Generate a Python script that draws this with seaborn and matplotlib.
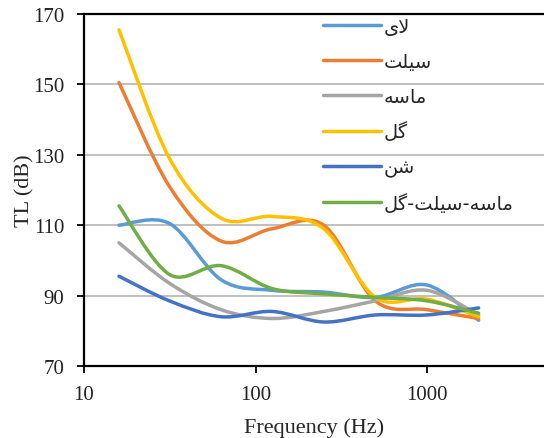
"""
Transmission loss (TL) of six soil types against frequency,
redrawn as an Excel-style smoothed line chart.
"""

# %% ---- Requirements and constants
import numpy as np
import matplotlib
matplotlib.use('Agg')
import matplotlib.pyplot as plt
from matplotlib.path import Path
from matplotlib.patches import PathPatch
from matplotlib.lines import Line2D
import seaborn as sns

freq = [16, 31.5, 63, 125, 250, 500, 1000, 2000]

materials = ['لای', 'سیلت', 'ماسه', 'گل', 'شن', 'ماسه-سیلت-گل']
tl_lay = [110, 110.5, 94.5, 91.5, 91, 89.5, 93, 83]
tl_silt = [150.5, 121, 105.5, 109, 110, 88.5, 86, 83.5]
tl_sand = [105, 93.5, 86, 83.5, 85.5, 88.5, 91.5, 84.5]
tl_clay = [165.5, 129, 112, 112.5, 109, 89.5, 89, 84]
tl_gravel = [95.5, 88.5, 84, 85.5, 82.5, 84.5, 84.5, 86.5]
tl_mix = [115.5, 96, 98.5, 92, 90.5, 89.5, 88.5, 85]
series = [tl_lay, tl_silt, tl_sand, tl_clay, tl_gravel, tl_mix]

colors = ['#5B9BD5', '#ED7D31', '#A5A5A5', '#FFC000', '#4472C4', '#70AD47']

y_ticks = [70, 90, 110, 130, 150, 170]
x_ticks = [10, 100, 1000]


# %% ---- Function and class
# Contextual forms of the Persian letters we need:
# isolated, final, initial, medial (right-joining letters have only two).
FORMS = {
    'ا': ('\uFE8D', '\uFE8E'),
    'ت': ('\uFE95', '\uFE96', '\uFE97', '\uFE98'),
    'س': ('\uFEB1', '\uFEB2', '\uFEB3', '\uFEB4'),
    'ش': ('\uFEB5', '\uFEB6', '\uFEB7', '\uFEB8'),
    'ل': ('\uFEDD', '\uFEDE', '\uFEDF', '\uFEE0'),
    'م': ('\uFEE1', '\uFEE2', '\uFEE3', '\uFEE4'),
    'ن': ('\uFEE5', '\uFEE6', '\uFEE7', '\uFEE8'),
    'ه': ('\uFEE9', '\uFEEA', '\uFEEB', '\uFEEC'),
    'گ': ('\uFB92', '\uFB93', '\uFB94', '\uFB95'),
    'ی': ('\uFBFC', '\uFBFD', '\uFBFE', '\uFBFF'),
}
LAM_ALEF = ('\uFEFB', '\uFEFC')


def shape(text):
    # matplotlib has no complex text layout, so join the letters and
    # put them in visual (left-to-right) order by hand.
    out = []
    i = 0
    while i < len(text):
        c = text[i]
        prev = text[i - 1] if i > 0 else None
        joins_prev = prev in FORMS and len(FORMS[prev]) == 4
        if c == 'ل' and i + 1 < len(text) and text[i + 1] == 'ا':
            out.append(LAM_ALEF[1 if joins_prev else 0])
            i += 2
            continue
        if c not in FORMS:
            out.append(c)
            i += 1
            continue
        f = FORMS[c]
        nxt = text[i + 1] if i + 1 < len(text) else None
        joins_next = len(f) == 4 and nxt in FORMS
        if joins_prev and joins_next:
            out.append(f[3])
        elif joins_prev:
            out.append(f[1])
        elif joins_next:
            out.append(f[2])
        else:
            out.append(f[0])
        i += 1
    return ''.join(reversed(out))


def smooth_path(xs, ys):
    # Excel-like smoothed line: cubic Bezier segments through the points,
    # control points from the neighbours (Catmull-Rom, tension 1/6),
    # worked out in log-x space since the axis is logarithmic.
    pts = np.column_stack([np.log10(xs), ys])
    n = len(pts)
    verts = [pts[0]]
    codes = [Path.MOVETO]
    for i in range(n - 1):
        p0 = pts[max(i - 1, 0)]
        p1 = pts[i]
        p2 = pts[i + 1]
        p3 = pts[min(i + 2, n - 1)]
        c1 = p1 + (p2 - p0) / 6
        c2 = p2 - (p3 - p1) / 6
        verts += [c1, c2, p2]
        codes += [Path.CURVE4] * 3
    verts = np.array(verts)
    verts[:, 0] = 10 ** verts[:, 0]
    return Path(verts, codes)


# %% ---- Play ground
sns.set_theme(style='white')
plt.rcParams['font.family'] = ['Liberation Serif', 'DejaVu Sans']

fig = plt.figure(figsize=(5.44, 4.39), dpi=100)
ax = fig.add_axes([0.1544, 0.164, 0.8456, 0.8018])
ax.set_xscale('log')
ax.set_xlim(10, 4810)
ax.set_ylim(70, 170)

handles = []
for name, values, color in zip(materials, series, colors):
    patch = PathPatch(smooth_path(freq, values), facecolor='none',
                      edgecolor=color, lw=2.5, capstyle='round', zorder=3)
    ax.add_patch(patch)
    handles.append(Line2D([], [], color=color, lw=2.5, label=shape(name)))

ax.set_yticks(y_ticks)
ax.set_xticks(x_ticks)
ax.set_xticklabels([str(t) for t in x_ticks])
ax.xaxis.set_minor_locator(matplotlib.ticker.NullLocator())
ax.yaxis.grid(True, color='#BFBFBF', lw=1.4)
ax.xaxis.grid(False)
ax.set_axisbelow(True)

for side in ['left', 'bottom', 'top']:
    ax.spines[side].set_color('black')
    ax.spines[side].set_linewidth(1.6)
ax.spines['right'].set_visible(False)
ax.tick_params(axis='both', direction='out', length=5, width=1.3,
               color='black', labelsize=15, labelcolor='#222222',
               left=True, bottom=True)
ax.tick_params(axis='y', pad=9)
ax.tick_params(axis='x', pad=9)

ax.set_xlabel('Frequency (Hz)', fontsize=16, labelpad=9)
ax.set_ylabel('TL (dB)', fontsize=16, labelpad=-1)

# Persian labels come from DejaVu Sans, which has the joined forms.
ax.legend(handles=handles, loc='upper left', bbox_to_anchor=(0.515, 0.998),
          frameon=False, handlelength=3.0, handletextpad=0.15,
          labelspacing=0.82, borderpad=0.1, borderaxespad=0,
          prop={'family': ['DejaVu Sans'], 'size': 14})

fig.savefig('out.png', dpi=100)
